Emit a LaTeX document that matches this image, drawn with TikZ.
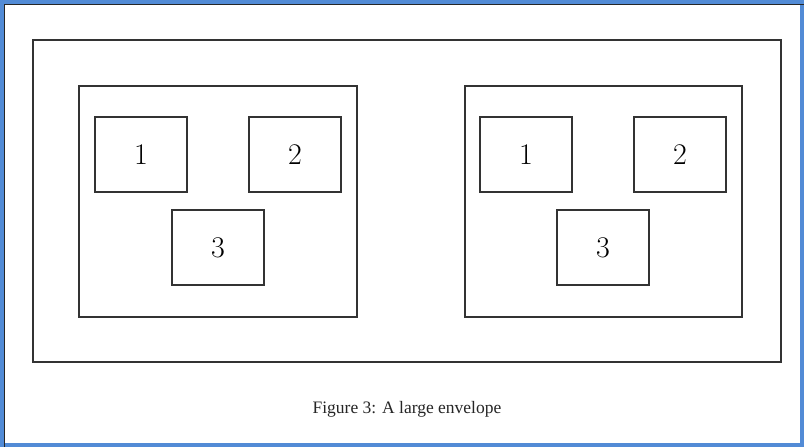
\documentclass[tikz,border=0pt]{standalone}
\usepackage{fontspec}
\newfontfamily\captionfont{Liberation Serif}
\begin{document}
\begin{tikzpicture}[x=1pt,y=-1pt,
  line width=1.1pt,
  frame/.style={draw=black!80},
  slot/.style={draw=black!80, minimum width=92pt, minimum height=75pt,
    inner sep=0pt, font=\fontsize{30}{32}\selectfont},
  captiontext/.style={font=\captionfont\fontsize{17.5}{20}\selectfont, text=black!85}]
  % page background and window border
  \fill[white] (0,0) rectangle (804,447);
  \useasboundingbox (0,0) rectangle (804,447);
  \draw[line width=4pt, draw={rgb,255:red,82;green,139;blue,214}] (2,2) rectangle (802,445);
  \draw[line width=1.2pt, draw=black!85] (4.6,447) -- (4.6,4.6) -- (804,4.6);
  % envelope
  \draw[frame] (33,40) rectangle (781,362);
  % left packet
  \draw[frame] (79,86) rectangle (357,317);
  \node[slot] (l1) at (141,154.5) {1};
  \node[slot] (l2) at (295,154.5) {2};
  \node[slot] (l3) at (218,247.5) {3};
  % right packet
  \draw[frame] (465,86) rectangle (742,317);
  \node[slot] (r1) at (526,154.5) {1};
  \node[slot] (r2) at (680,154.5) {2};
  \node[slot] (r3) at (603,247.5) {3};
  % caption
  \node[captiontext, anchor=base] (cap) at (407,413) {Figure 3: A large envelope};
\end{tikzpicture}
\end{document}
